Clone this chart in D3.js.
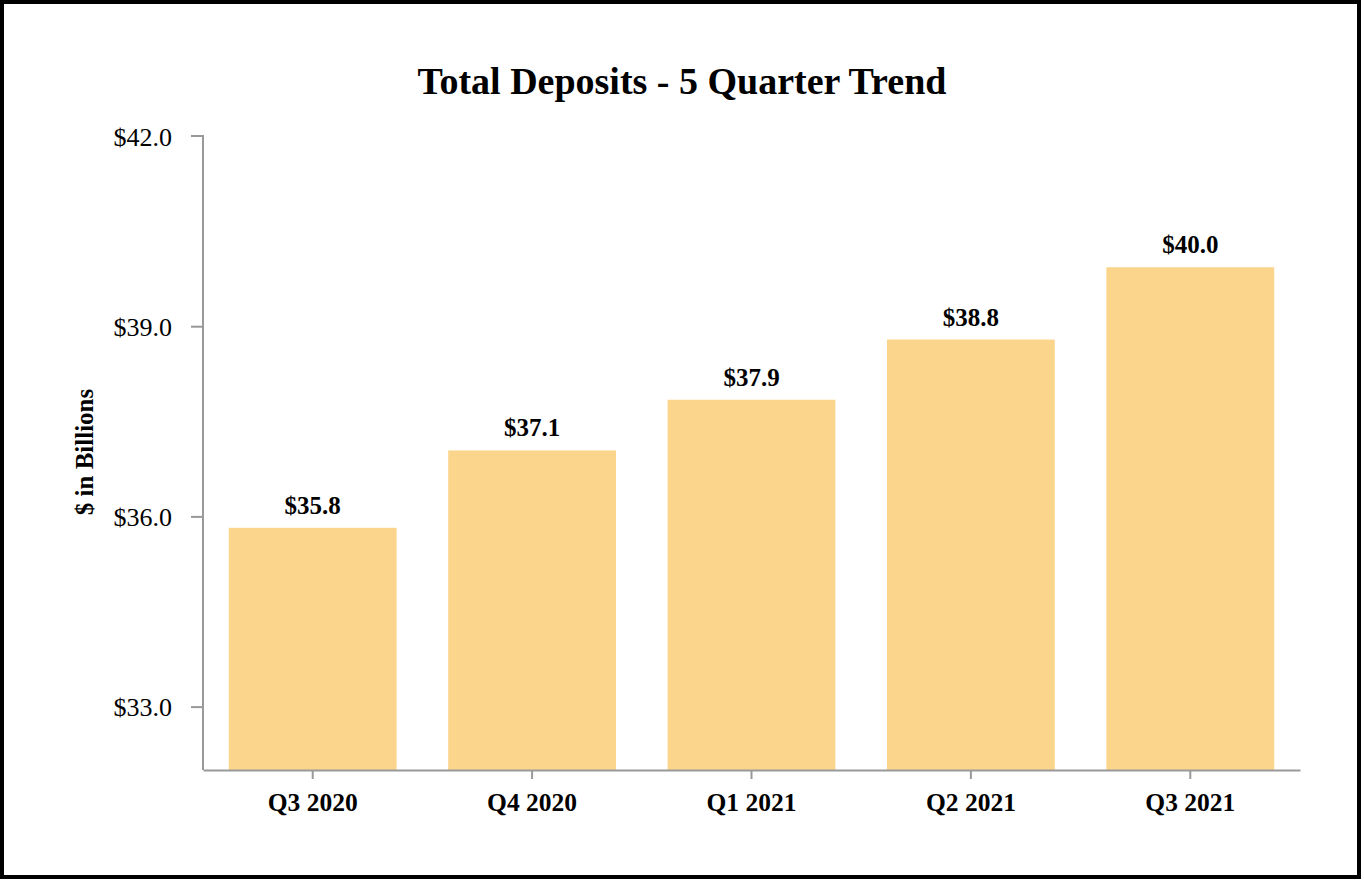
<!DOCTYPE html>
<html>
<head>
<meta charset="utf-8">
<script src="https://cdn.jsdelivr.net/npm/d3@7"></script>
<style>
  html, body { margin: 0; padding: 0; background: #fff; }
  svg { display: block; }
  text { font-family: "Liberation Serif", "Times New Roman", serif; fill: #000; }
</style>
</head>
<body>
<svg id="chart" width="1364" height="880"></svg>
<script>
const categories = ["Q3 2020", "Q4 2020", "Q1 2021", "Q2 2021", "Q3 2021"];
const values = [35.82, 37.04, 37.84, 38.79, 39.93];
const valueLabels = ["$35.8", "$37.1", "$37.9", "$38.8", "$40.0"];
const yTicks = [33, 36, 39, 42];
const yTickLabels = ["$33.0", "$36.0", "$39.0", "$42.0"];
const titleText = "Total Deposits - 5 Quarter Trend";
const yAxisTitle = "$ in Billions";

(function () {
const svg = d3.select("#chart");
const W = 1364, H = 880;

// outer frame
svg.append("rect").attr("x", 2).attr("y", 2).attr("width", W - 7).attr("height", H - 5)
  .attr("fill", "#fff").attr("stroke", "#000").attr("stroke-width", 4);

const pLeft = 203, pRight = 1300, pTop = 136, pBottom = 770;

const x = d3.scaleBand().domain(categories).range([pLeft, pRight])
  .paddingInner(0.235).paddingOuter(0.1175);
const y = d3.scaleLinear().domain([32, 42]).range([pBottom, pTop]);

svg.append("text").attr("x", 682).attr("y", 94).attr("text-anchor", "middle")
  .style("font-size", "38px").style("font-weight", "bold").text(titleText);

// bars
svg.append("g").selectAll("rect").data(values).join("rect")
  .attr("x", (d, i) => x(categories[i]))
  .attr("y", d => y(d))
  .attr("width", x.bandwidth())
  .attr("height", d => y(32) - y(d))
  .attr("fill", "#FCD58C");

// value labels
svg.append("g").selectAll("text").data(values).join("text")
  .attr("x", (d, i) => x(categories[i]) + x.bandwidth() / 2)
  .attr("y", d => y(d) - 14)
  .attr("text-anchor", "middle")
  .style("font-size", "25px").style("font-weight", "bold")
  .text((d, i) => valueLabels[i]);

// y axis
const yAxis = d3.axisLeft(y).tickValues(yTicks).tickSize(12).tickPadding(19)
  .tickFormat((d, i) => yTickLabels[i]);
const gy = svg.append("g").attr("transform", `translate(${pLeft},0)`).call(yAxis);
gy.select(".domain").attr("d", `M-12,${pTop}H0V${pBottom}`).attr("stroke", "#999").attr("stroke-width", 2);
gy.selectAll(".tick line").attr("stroke", "#999").attr("stroke-width", 2);
gy.selectAll(".tick text").style("font-family", "'Liberation Serif', serif").style("font-size", "26px").attr("fill", "#000").attr("dy", "0.35em");
gy.selectAll(".tick").filter(d => d === 42).select("line").remove();

// x axis
const xAxis = d3.axisBottom(x).tickSize(9).tickSizeOuter(0).tickPadding(14);
const gx = svg.append("g").attr("transform", `translate(0,${pBottom})`).call(xAxis);
gx.select(".domain").attr("stroke", "#999").attr("stroke-width", 2);
gx.selectAll(".tick line").attr("stroke", "#999").attr("stroke-width", 2);
gx.selectAll(".tick text").style("font-family", "'Liberation Serif', serif").style("font-size", "25.5px").style("font-weight", "bold").attr("fill", "#000");

// y axis title
svg.append("text").attr("transform", "translate(93,452) rotate(-90)")
  .attr("text-anchor", "middle").style("font-size", "25px").style("font-weight", "bold").text(yAxisTitle);
})();
</script>
</body>
</html>
